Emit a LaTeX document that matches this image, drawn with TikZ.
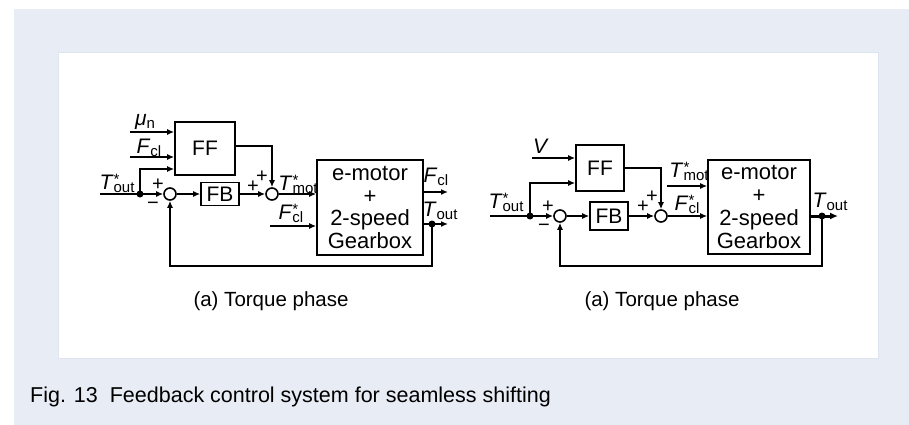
\documentclass[tikz,border=0pt]{standalone}
\usepackage{fontspec}
\setmainfont{Liberation Sans}
\usetikzlibrary{arrows.meta}
\definecolor{panel}{RGB}{232,236,245}
\definecolor{paneledge}{RGB}{222,228,240}
\newcommand\Lab[3]{\textit{#1}\makebox[0pt][l]{\raisebox{5pt}{\fontsize{15}{15}\selectfont #2}}\raisebox{-3pt}{\fontsize{15}{15}\selectfont #3}}
\begin{document}
\begin{tikzpicture}[x=1pt,y=-1pt,
  wire/.style={line width=1.6pt},
  arr/.style={wire,-{Latex[length=7pt,width=6pt]}},
  blk/.style={draw,line width=1.6pt,inner sep=0pt,font=\fontsize{21}{21}\selectfont},
  bigblk/.style={draw,line width=1.6pt,inner sep=0pt,align=center,font=\fontsize{22}{22.7}\selectfont},
  sumc/.style={draw,circle,line width=1.6pt,minimum size=12pt,inner sep=0pt},
  dotc/.style={circle,fill,minimum size=7pt,inner sep=0pt},
  lbl/.style={inner sep=0pt,font=\fontsize{21}{21}\selectfont},
  sgn/.style={inner sep=0pt,font=\fontsize{20}{20}\selectfont},
  captxt/.style={inner sep=0pt,font=\fontsize{20.5}{20.5}\selectfont},
]
% background
\fill[white] (0,0) rectangle (909,425);
\fill[panel] (14,9) rectangle (909,425);
\filldraw[fill=white,draw=paneledge,line width=1pt] (58,53) rectangle (878,358);

% ---------------- left diagram ----------------
\node[blk,minimum width=60pt,minimum height=53pt] (ff1) at (205,148.5) {FF};
\node[blk,minimum width=38pt,minimum height=23pt] (fb1) at (220,194) {FB};
\node[sumc] (s1a) at (170,194) {};
\node[sumc] (s1b) at (272,194) {};
\node[bigblk,minimum width=106pt,minimum height=95pt] (box1) at (370,207.5) {e-motor\\+\\2-speed\\Gearbox};
\node[dotc] (d1) at (140,194) {};
\node[dotc] (d1o) at (432,224) {};
\coordinate (in1) at (100,194);
\coordinate (mu1) at (130,132);
\coordinate (fc1) at (130,157);
\coordinate (fcs1) at (270,226);
\coordinate (o1a) at (448,192);
\coordinate (o1b) at (448,224);
\coordinate (fbk1) at (432,266);

\draw[wire] (in1) -- (d1.center);
\draw[arr] (d1.center) -- (s1a);
\draw[arr] (mu1) -- ([yshift=16.5pt]ff1.west);
\draw[arr] (fc1) -- ([yshift=-8.5pt]ff1.west);
\draw[arr] (d1.center) |- ([yshift=-20.5pt]ff1.west);
\draw[arr] (s1a) -- (fb1);
\draw[arr] (fb1) -- (s1b);
\draw[arr] ([yshift=2.5pt]ff1.east) -| (s1b.north);
\draw[arr] (s1b) -- (s1b -| box1.west);
\draw[arr] (fcs1) -- ([yshift=-18.5pt]box1.west);
\draw[arr] ([yshift=15.5pt]box1.east) -- (o1a);
\draw[arr] ([yshift=-16.5pt]box1.east) -- (o1b);
\draw[arr] (d1o.center) -- (fbk1) -| (s1a.south);

\node[lbl] (lmu) at (145,122) {\Lab{μ}{}{n}};
\node[lbl] (lfc) at (149,148) {\Lab{F}{}{cl}};
\node[lbl] (lto1) at (117,183) {\Lab{T}{*}{out}};
\node[sgn] (p1a) at (158,185) {+};
\node[sgn] (m1a) at (153,206) {−};
\node[sgn] (p1b) at (253,187) {+};
\node[sgn] (p1c) at (262,177) {+};
\node[lbl] (ltm1) at (298,184) {\Lab{T}{*}{mot}};
\node[lbl] (lfs1) at (291,213) {\Lab{F}{*}{cl}};
\node[lbl] (lfo1) at (436,177) {\Lab{F}{}{cl}};
\node[lbl] (lto1o) at (440,211) {\Lab{T}{}{out}};
\node[captxt] (cap1) at (271,301) {(a) Torque phase};

% ---------------- right diagram ----------------
\node[blk,minimum width=48pt,minimum height=46pt] (ff2) at (600,168) {FF};
\node[blk,minimum width=38pt,minimum height=28pt] (fb2) at (609,216) {FB};
\node[sumc] (s2a) at (560,216) {};
\node[sumc] (s2b) at (661,216) {};
\node[bigblk,minimum width=102pt,minimum height=94pt] (box2) at (759,207) {e-motor\\+\\2-speed\\Gearbox};
\node[dotc] (d2) at (530,216) {};
\node[dotc] (d2o) at (822,216) {};
\coordinate (in2) at (490,216);
\coordinate (v2) at (532,158);
\coordinate (tm2) at (667,186);
\coordinate (o2) at (838,216);
\coordinate (fbk2) at (822,266);

\draw[wire] (in2) -- (d2.center);
\draw[arr] (d2.center) -- (s2a);
\draw[arr] (v2) -- ([yshift=10pt]ff2.west);
\draw[arr] (d2.center) |- ([yshift=-15pt]ff2.west);
\draw[arr] (s2a) -- (fb2);
\draw[arr] (fb2) -- (s2b);
\draw[arr] (ff2.east) -| (s2b.north);
\draw[arr] (tm2) -- ([yshift=21pt]box2.west);
\draw[arr] (s2b) -- (s2b -| box2.west);
\draw[line width=3pt,-{Latex[length=8pt,width=7pt]}] (box2.east |- d2o) -- (o2);
\draw[arr] (d2o.center) -- (fbk2) -| (s2a.south);

\node[lbl] (lv2) at (541,146) {\textit{V}};
\node[lbl] (lto2) at (506,202) {\Lab{T}{*}{out}};
\node[sgn] (p2a) at (548,207) {+};
\node[sgn] (m2a) at (544,228) {−};
\node[sgn] (p2b) at (643,207) {+};
\node[sgn] (p2c) at (652,197) {+};
\node[lbl] (ltm2) at (689,171) {\Lab{T}{*}{mot}};
\node[lbl] (lfs2) at (687,204) {\Lab{F}{*}{cl}};
\node[lbl] (lto2o) at (830,202) {\Lab{T}{}{out}};
\node[captxt] (cap2) at (662,301) {(a) Torque phase};

% figure caption
\node[anchor=west,inner sep=0pt,font=\fontsize{21.5}{21.5}\selectfont] (figcap) at (30,397) {Fig. 13\ \ Feedback control system for seamless shifting};
\end{tikzpicture}
\end{document}
